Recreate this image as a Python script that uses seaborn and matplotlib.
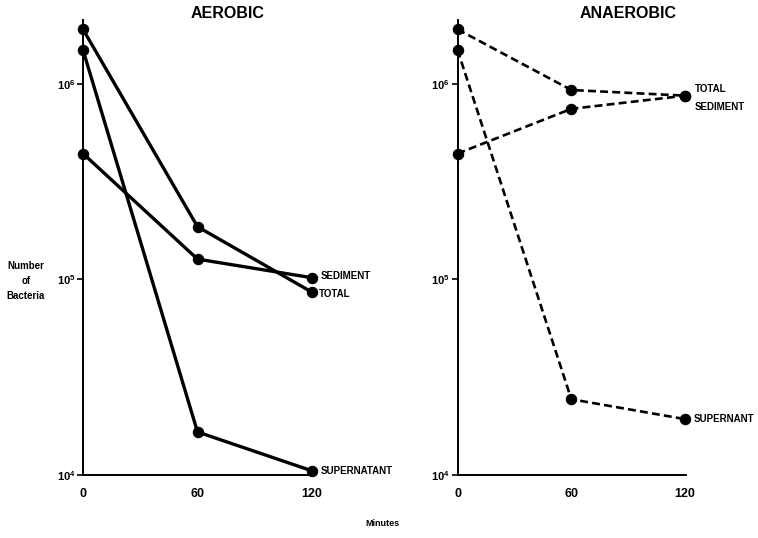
import pandas as pd
import matplotlib
matplotlib.use("Agg")
import matplotlib.pyplot as plt
import seaborn as sns

# Data (bacteria counts, log scale)
minutes = [0, 60, 120]
fractions = ["TOTAL", "SEDIMENT", "SUPERNATANT"]

aerobic_total = [1.9e6, 1.86e5, 8.6e4]
aerobic_sediment = [4.4e5, 1.27e5, 1.02e5]
aerobic_supernatant = [1.49e6, 1.66e4, 1.05e4]

anaerobic_total = [1.9e6, 9.3e5, 8.7e5]
anaerobic_sediment = [4.4e5, 7.45e5, 8.7e5]
anaerobic_supernatant = [1.49e6, 2.44e4, 1.93e4]

aerobic_labels = ["TOTAL", "SEDIMENT", "SUPERNATANT"]
anaerobic_labels = ["TOTAL", "SEDIMENT", "SUPERNANT"]

ytick_vals = [1e4, 1e5, 1e6]
ytick_labels = [r"$\mathbf{10^4}$", r"$\mathbf{10^5}$", r"$\mathbf{10^6}$"]


def make_df(total, sediment, supernatant):
    rows = []
    for name, vals in zip(fractions, [total, sediment, supernatant]):
        for m, v in zip(minutes, vals):
            rows.append({"minutes": m, "count": v, "fraction": name})
    return pd.DataFrame(rows)


df_aer = make_df(aerobic_total, aerobic_sediment, aerobic_supernatant)
df_ana = make_df(anaerobic_total, anaerobic_sediment, anaerobic_supernatant)

sns.set_style("white")
plt.rcParams["font.family"] = ["Liberation Sans", "DejaVu Sans"]
plt.rcParams["font.weight"] = "bold"
plt.rcParams["text.color"] = "black"
plt.rcParams["xtick.color"] = "black"
plt.rcParams["ytick.color"] = "black"
plt.rcParams["mathtext.fontset"] = "custom"
plt.rcParams["mathtext.bf"] = "Liberation Sans:bold"
plt.rcParams["mathtext.rm"] = "Liberation Sans:bold"

fig = plt.figure(figsize=(7.58, 5.38), dpi=100)
ax1 = fig.add_axes([0.1095, 0.1171, 0.3034, 0.8457])
ax2 = fig.add_axes([0.6036, 0.1171, 0.3015, 0.8457])


def draw_panel(ax, df, dashed, labels, offsets):
    for name in fractions:
        sub = df[df["fraction"] == name]
        sns.lineplot(data=sub, x="minutes", y="count", ax=ax, color="black",
                     marker="o", markersize=7.5, linewidth=2.4,
                     markeredgecolor="black", estimator=None)
    for line in ax.lines:
        line.set_clip_on(False)
        if dashed:
            line.set_dashes([3, 1.6])
            line.set_linewidth(1.9)
    ax.set_yscale("log")
    ax.set_ylim(1e4, 2.12e6)
    ax.set_xlim(0, 120.5)
    ax.set_yticks(ytick_vals)
    ax.set_yticklabels(ytick_labels, fontsize=8)
    ax.yaxis.set_minor_locator(matplotlib.ticker.NullLocator())
    ax.set_xticks(minutes)
    ax.set_xticklabels([str(m) for m in minutes], fontsize=9, fontweight="bold")
    ax.tick_params(axis="y", direction="out", length=4.5, width=1.2, pad=1,
                   left=True)
    ax.tick_params(axis="x", length=0, pad=9)
    ax.set_xlabel("")
    ax.set_ylabel("")
    for side in ["top", "right"]:
        ax.spines[side].set_visible(False)
    for side in ["left", "bottom"]:
        ax.spines[side].set_linewidth(1.4)
        ax.spines[side].set_color("black")
    last = df[df["minutes"] == 120]
    for name, lab, off in zip(fractions, labels, offsets):
        val = last[last["fraction"] == name]["count"].iloc[0]
        ax.annotate(lab, xy=(120, val), xytext=off, textcoords="offset points",
                    fontsize=7, fontweight="bold", va="center", ha="left",
                    annotation_clip=False)


draw_panel(ax1, df_aer, False, aerobic_labels, [(5, -1), (6, 1), (6, 0)])
draw_panel(ax2, df_ana, True, anaerobic_labels, [(7, 5), (7, -8), (6, 0)])

fig.text(228 / 758, 1 - 14 / 538, "AEROBIC", ha="center", va="center",
         fontsize=11.5, fontweight="bold")
fig.text(628 / 758, 1 - 14 / 538, "ANAEROBIC", ha="center", va="center",
         fontsize=11.5, fontweight="bold")
fig.text(26 / 758, 1 - 281 / 538, "Number\nof\nBacteria", ha="center",
         va="center", fontsize=7, fontweight="bold", linespacing=1.6)
fig.text(382 / 758, 1 - 524 / 538, "Minutes", ha="center", va="center",
         fontsize=6.5, fontweight="bold")

fig.savefig("out.png", dpi=100)
